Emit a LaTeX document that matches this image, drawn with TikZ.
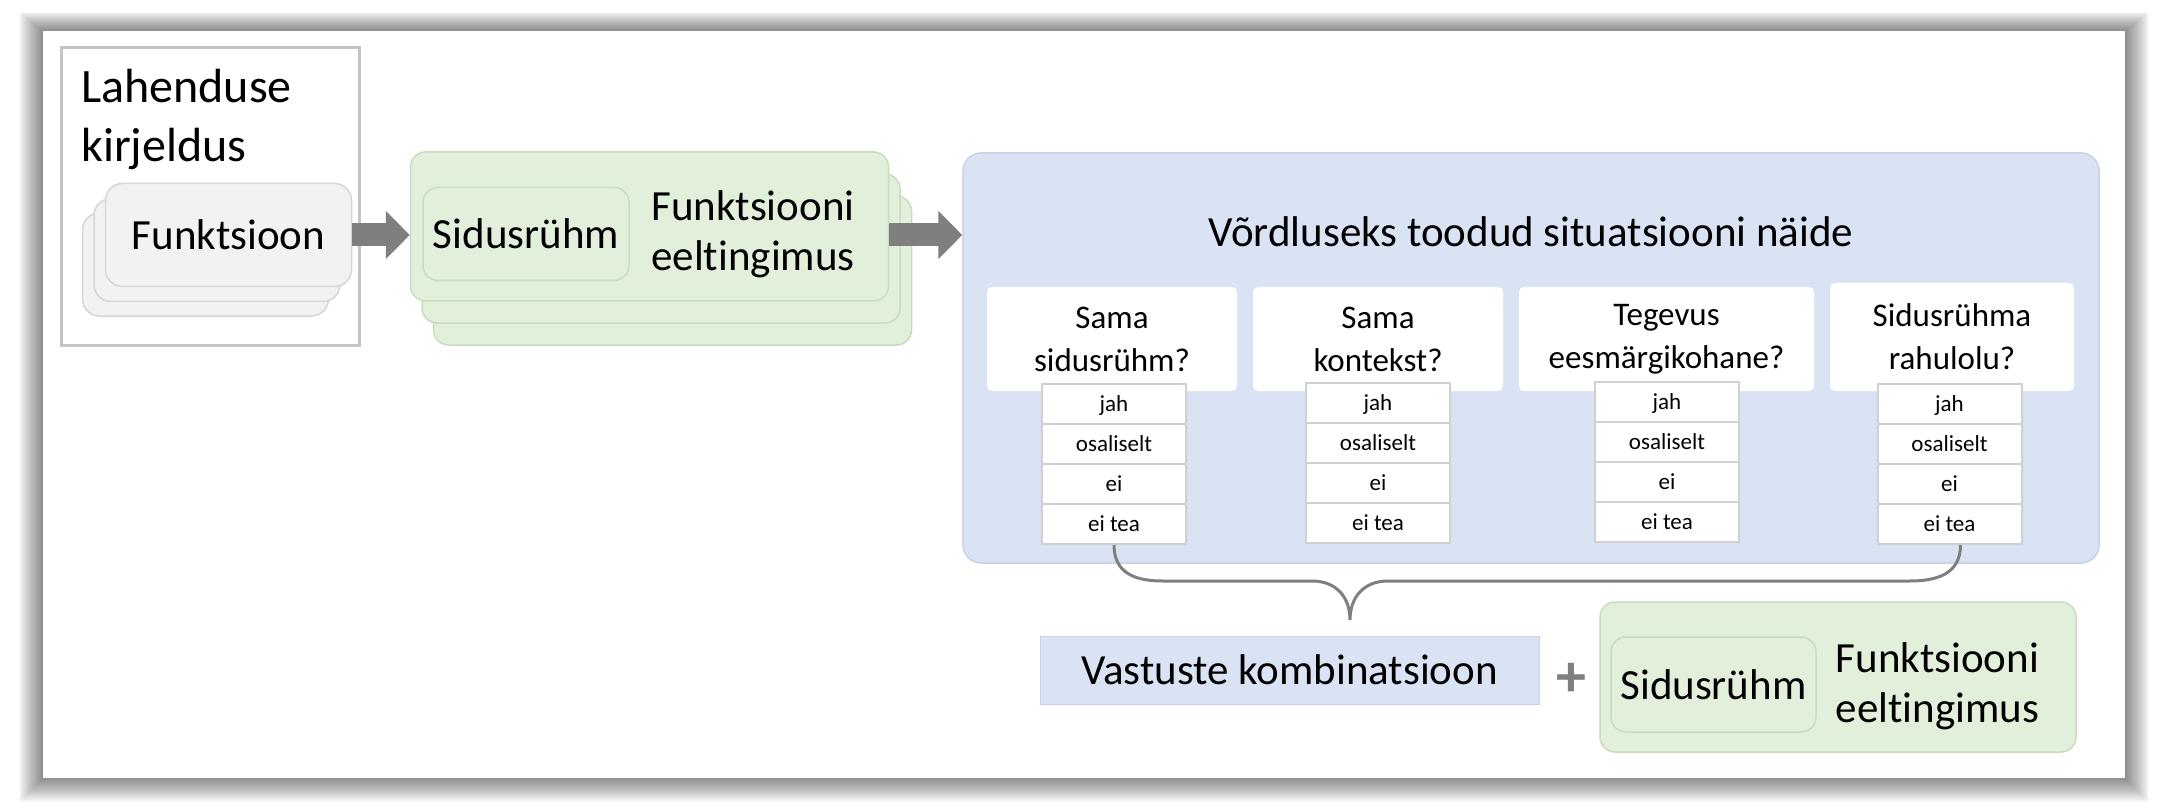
\documentclass[tikz,border=0pt]{standalone}
\usepackage{fontspec}
\setmainfont[Ligatures={NoCommon}]{Carlito}
\usetikzlibrary{arrows.meta}
\definecolor{boxgray}{HTML}{F2F2F2}
\definecolor{edgegray}{HTML}{D6D6D6}
\definecolor{framegray}{HTML}{C4C4C4}
\definecolor{arrowgray}{HTML}{7F7F7F}
\definecolor{leafgreen}{HTML}{E2EFDA}
\definecolor{leafedge}{HTML}{CADCBF}
\definecolor{paleblue}{HTML}{DAE3F3}
\definecolor{blueedge}{HTML}{C8D2E4}
\definecolor{celledge}{HTML}{D0D0D0}

\newcommand{\txthead}{\fontsize{48}{59}\selectfont}
\newcommand{\txtbig}{\fontsize{43}{50}\selectfont}
\newcommand{\txtq}{\fontsize{33}{43}\selectfont}
\newcommand{\txtcell}{\fontsize{23}{28}\selectfont}

\tikzset{
  fnbox/.style={draw=edgegray, fill=boxgray, line width=1.5pt, rounded corners=17pt,
    minimum width=246pt, minimum height=103pt, font=\txtbig},
  leafbox/.style={draw=leafedge, fill=leafgreen, line width=1.5pt, rounded corners=15pt,
    minimum width=478pt, minimum height=149pt},
  rolebox/.style={draw=leafedge, fill=leafgreen, line width=1.5pt, rounded corners=15pt,
    minimum width=206pt, minimum height=93pt, font=\txtbig},
  condtext/.style={align=center, inner sep=0pt, font=\txtbig},
  qbox/.style={fill=white, rounded corners=5pt, minimum height=104pt, align=center,
    font=\txtq},
  cell/.style={draw=celledge, fill=white, line width=2pt, minimum width=144pt,
    minimum height=40pt, text height=16pt, text depth=2pt, font=\txtcell},
  fatarrow/.style={draw=arrowgray, line width=23pt,
    -{Triangle[length=24pt, width=47pt]}},
  brace/.style={draw=arrowgray, line width=3pt}
}

\begin{document}
\begin{tikzpicture}[x=1pt, y=-1pt]
  \useasboundingbox (0,0) rectangle (2168,810);

  % ---- SHADOW AND SHEET ----
  \foreach \i in {1,...,24}
    \fill[black, fill opacity=0.025] ({43-\i},{31-0.8*\i}) rectangle ({2125+\i},{778+\i});
  \fill[white] (43,31) rectangle (2125,778);

  % ---- SOLUTION DESCRIPTION ----
  \node[draw=framegray, fill=white, line width=3pt, minimum width=298pt,
    minimum height=297pt] (lahframe) at (210,196.5) {};
  \node[anchor=north west, inner sep=0pt, align=left, font=\txthead]
    (lahtext) at (81,69) {Lahenduse\\kirjeldus};

  % Function stack
  \node[fnbox] (fnback) at (205.5,264.5) {};
  \node[fnbox] (fnmid) at (217,250) {};
  \node[fnbox] (fnfront) at (228.5,235) {Funktsioon};

  % ---- STAKEHOLDER + PRECONDITION STACK ----
  \node[leafbox] (grnback) at (672.5,270.5) {};
  \node[leafbox] (grnmid) at (661,248.5) {};
  \node[leafbox] (grnfront) at (649.5,226.5) {};
  \node[rolebox] (grnrole) at (526,234) {Sidusrühm};
  \node[condtext] (grncond) at (753,234) {Funktsiooni\\eeltingimus};

  % ---- COMPARISON EXAMPLE ----
  \node[draw=blueedge, fill=paleblue, line width=1.5pt, rounded corners=18pt,
    minimum width=1136pt, minimum height=410pt] (cmp) at (1531,358) {};
  \node[anchor=base, font=\txtbig] (cmptitle) at (1531,247)
    {Võrdluseks toodud situatsiooni näide};

  \node[qbox, minimum width=250pt] (q1) at (1112,339) {Sama\\sidusrühm?};
  \node[qbox, minimum width=250pt] (q2) at (1378,339) {Sama\\kontekst?};
  \node[qbox, minimum width=295pt] (q3) at (1666.5,339) {Tegevus\\eesmärgikohane?};
  \node[qbox, minimum width=244pt, minimum height=108pt] (q4) at (1952,337)
    {Sidusrühma\\rahulolu?};

  % Answer columns
  \foreach \x/\top [count=\c] in {1114/384, 1378/383, 1667/382, 1949.5/384}
    \foreach \t [count=\r] in {jah, osaliselt, ei, ei tea}
      \node[cell] (a\c-\r) at (\x,{\top+40*\r-20}) {\t};

  % ---- ARROWS ----
  \draw[fatarrow] (fnfront.east) -- (fnfront.east -| grnfront.west);
  \draw[fatarrow] (grnfront.east |- fnfront.east) -- (fnfront.east -| cmp.west);

  % ---- BRACE ----
  \coordinate (bracetip) at (1350,620);
  \draw[brace] (a1-4.south) .. controls +(0,30) and +(-25,0) .. (1163,581)
    -- (1312,581) .. controls +(25,0) and +(0,-22) .. (bracetip)
    .. controls +(0,-22) and +(-25,0) .. (1388,581)
    -- (1910,581) .. controls +(25,0) and +(0,30) .. ([xshift=11pt]a4-4.south);

  % ---- RESULT ----
  \node[fill=paleblue, draw=blueedge, line width=1pt, minimum width=499pt,
    minimum height=68pt, font=\txtbig] (combo) at (1289.5,670) {Vastuste kombinatsioon};
  \node[text=arrowgray, font=\fontsize{60}{60}\selectfont\bfseries] (plus) at (1571,680) {+};
  \node[leafbox, minimum width=476pt, minimum height=150pt] (resbox) at (1838,677) {};
  \node[rolebox, minimum width=205pt, minimum height=95pt] (resrole) at (1713.5,684.5) {Sidusrühm};
  \node[condtext] (rescond) at (1937.5,686) {Funktsiooni\\eeltingimus};
\end{tikzpicture}
\end{document}
